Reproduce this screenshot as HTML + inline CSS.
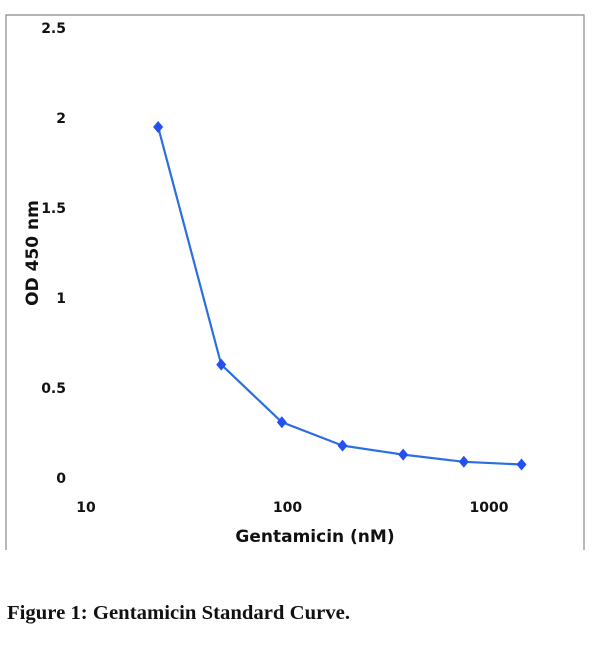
<!DOCTYPE html>
<html><head><meta charset="utf-8"><style>
body{margin:0;background:#fff;width:600px;height:650px;overflow:hidden}
svg text{font-family:"DejaVu Sans","Liberation Sans",sans-serif;font-weight:bold;fill:#111}
</style></head><body>
<svg width="600" height="650">
<g stroke="#888" stroke-width="1.2" fill="none">
<path d="M6,550 V15 H584 V550"/>
</g>
<g id="yt"></g>
<g id="xt"></g>
<text x="0" y="0" transform="translate(38,253) rotate(-90)" text-anchor="middle" font-size="17">OD 450 nm</text>
<text x="315" y="542" text-anchor="middle" font-size="17">Gentamicin (nM)</text>
<g id="series"></g>
<text x="7" y="619" font-size="20" textLength="343" lengthAdjust="spacingAndGlyphs" style="font-family:'Liberation Serif',serif;font-weight:bold">Figure 1: Gentamicin Standard Curve.</text>
</svg>
<script>
const concentrations=[22.8,46.9,93.75,187.5,375,750,1450];
const odValues=[1.95,0.63,0.31,0.18,0.13,0.09,0.075];
const yTicks=[0,0.5,1,1.5,2,2.5];
const yTickLabels=["0","0.5","1","1.5","2","2.5"];
const xTicks=[10,100,1000];
const xTickLabels=["10","100","1000"];
const NS="http://www.w3.org/2000/svg";
function xs(v){return 86+(Math.log10(v)-1)*201.5;}
function ys(v){return 478-v*180;}
const yt=document.getElementById('yt');
yTicks.forEach((t,i)=>{const e=document.createElementNS(NS,'text');
e.setAttribute('x',66);e.setAttribute('y',ys(t)+5);e.setAttribute('text-anchor','end');e.setAttribute('font-size','14');


e.textContent=yTickLabels[i];yt.appendChild(e);});
const xt=document.getElementById('xt');
xTicks.forEach((t,i)=>{const e=document.createElementNS(NS,'text');
e.setAttribute('x',xs(t));e.setAttribute('y',512);e.setAttribute('text-anchor','middle');e.setAttribute('font-size','14');


e.textContent=xTickLabels[i];xt.appendChild(e);});
const g=document.getElementById('series');
const pl=document.createElementNS(NS,'polyline');
pl.setAttribute('points',concentrations.map((c,i)=>xs(c)+','+ys(odValues[i])).join(' '));
pl.setAttribute('fill','none');pl.setAttribute('stroke','#2a6ee0');pl.setAttribute('stroke-width','2.2');


g.appendChild(pl);
concentrations.forEach((c,i)=>{const x=xs(c),y=ys(odValues[i]);const p=document.createElementNS(NS,'polygon');
p.setAttribute('points',`${x},${y-6} ${x+5},${y} ${x},${y+6} ${x-5},${y}`);p.setAttribute('fill','#2450f0');


g.appendChild(p);});
</script>
</body></html>
